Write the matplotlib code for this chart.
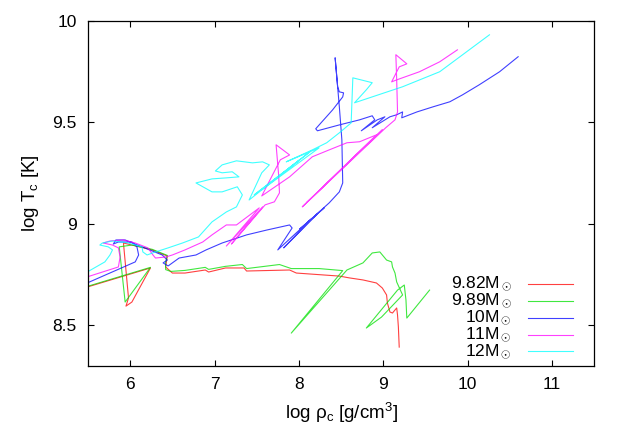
import numpy as np
import matplotlib
matplotlib.use("Agg")
import matplotlib.pyplot as plt
from matplotlib.ticker import FuncFormatter

plt.rcParams['font.family'] = ['Liberation Sans', 'DejaVu Sans']
plt.rcParams['mathtext.fontset'] = 'custom'
plt.rcParams['mathtext.rm'] = 'Liberation Sans'
plt.rcParams['mathtext.it'] = 'Liberation Sans:italic'

# tracks: log rho_c, log T_c
rho_982 = [5.49, 6.24, 6.02, 5.95, 5.98, 5.92, 6.02, 6.26, 6.44, 6.42, 6.50, 6.65, 6.89, 6.93,
           7.13, 7.35, 7.38, 7.89, 7.97, 8.48, 8.60, 8.76, 8.92, 8.99, 9.04, 9.05, 9.08, 9.11,
           9.16, 9.17, 9.18, 9.19]
tc_982 = [8.689, 8.783, 8.615, 8.595, 8.635, 8.906, 8.896, 8.872, 8.842, 8.788, 8.758, 8.758,
          8.773, 8.763, 8.783, 8.783, 8.768, 8.773, 8.758, 8.743, 8.734, 8.724, 8.709, 8.684,
          8.650, 8.610, 8.566, 8.561, 8.586, 8.551, 8.492, 8.393]

rho_989 = [5.49, 6.24, 5.94, 5.87, 6.02, 6.26, 6.44, 6.42, 6.42, 6.48, 6.65, 6.89, 6.93, 7.13,
           7.33, 7.38, 7.77, 7.91, 8.24, 8.52, 7.91, 8.57, 8.76, 8.87, 8.96, 8.99, 9.04, 9.10,
           9.11, 9.14, 9.16, 9.23, 8.98, 8.80, 9.17, 9.25, 9.27, 9.28, 9.55]
tc_989 = [8.692, 8.786, 8.615, 8.887, 8.896, 8.875, 8.845, 8.813, 8.775, 8.766, 8.771, 8.786,
          8.776, 8.791, 8.800, 8.780, 8.800, 8.780, 8.780, 8.770, 8.462, 8.773, 8.808, 8.857,
          8.862, 8.847, 8.822, 8.813, 8.788, 8.758, 8.714, 8.650, 8.541, 8.487, 8.674, 8.699,
          8.625, 8.536, 8.674]

rho_10 = [5.49, 6.06, 6.10, 6.08, 6.02, 5.86, 5.80, 5.83, 5.94, 6.14, 6.38, 6.44, 6.39, 6.45,
          6.58, 6.78, 6.90, 7.09, 7.38, 7.62, 7.89, 7.92, 7.75, 8.15, 7.82, 8.22, 8.01, 8.30,
          8.07, 8.36, 8.48, 8.52, 8.51, 8.48, 8.43, 8.46, 8.48, 8.53, 8.52, 8.40, 8.20, 8.22,
          8.48, 8.72, 8.87, 8.90, 8.74, 8.93, 9.02, 8.87, 9.08, 9.16, 9.23, 9.22, 9.40, 9.59,
          9.79, 9.94, 10.14, 10.38, 10.60]
tc_10 = [8.709, 8.813, 8.847, 8.887, 8.911, 8.911, 8.901, 8.921, 8.921, 8.887, 8.847, 8.822,
         8.808, 8.793, 8.832, 8.847, 8.872, 8.906, 8.946, 8.970, 8.995, 8.980, 8.872, 9.025,
         8.882, 9.049, 8.975, 9.079, 8.995, 9.104, 9.158, 9.202, 9.414, 9.577, 9.819, 9.676,
         9.651, 9.646, 9.626, 9.562, 9.469, 9.459, 9.488, 9.513, 9.533, 9.513, 9.459, 9.513,
         9.528, 9.474, 9.528, 9.538, 9.552, 9.523, 9.552, 9.577, 9.602, 9.636, 9.686, 9.750,
         9.824]

rho_11 = [5.49, 5.86, 5.88, 5.86, 5.79, 5.68, 5.76, 5.92, 6.06, 6.21, 6.27, 6.30, 6.42, 6.50,
          6.65, 6.86, 6.97, 7.14, 7.26, 7.53, 7.14, 7.57, 7.20, 7.60, 7.71, 7.77, 7.76, 7.73,
          7.89, 7.78, 7.56, 7.89, 8.16, 8.36, 8.57, 8.72, 8.92, 8.04, 8.99, 8.09, 9.03, 9.14,
          9.17, 9.16, 9.15, 9.28, 9.19, 9.10, 9.16, 9.43, 9.67, 9.88]
tc_11 = [8.739, 8.788, 8.837, 8.882, 8.896, 8.906, 8.916, 8.921, 8.906, 8.882, 8.847, 8.832,
         8.837, 8.847, 8.872, 8.911, 8.946, 8.995, 8.995, 9.079, 8.891, 9.084, 8.901, 9.094,
         9.109, 9.153, 9.242, 9.390, 9.340, 9.316, 9.138, 9.232, 9.331, 9.365, 9.400, 9.405,
         9.439, 9.084, 9.464, 9.104, 9.474, 9.513, 9.552, 9.710, 9.834, 9.789, 9.774, 9.700,
         9.710, 9.750, 9.799, 9.858]

rho_12 = [5.49, 5.70, 5.76, 5.79, 5.74, 5.64, 5.67, 5.79, 5.90, 5.98, 6.14, 6.15, 6.20, 6.30,
          6.45, 6.62, 6.81, 6.97, 7.14, 7.26, 7.33, 7.27, 7.09, 6.97, 6.78, 6.97, 7.14, 7.29,
          7.21, 7.09, 7.01, 7.09, 7.26, 7.45, 7.57, 7.65, 7.56, 7.41, 8.01, 7.47, 8.13, 7.56,
          8.24, 7.85, 8.16, 8.33, 8.48, 8.62, 8.64, 8.87, 8.80, 8.66, 8.84, 9.23, 9.67, 9.91,
          10.26]
tc_12 = [8.763, 8.813, 8.847, 8.872, 8.887, 8.896, 8.906, 8.916, 8.911, 8.906, 8.887, 8.862,
         8.847, 8.862, 8.882, 8.906, 8.936, 9.010, 9.059, 9.084, 9.143, 9.183, 9.158, 9.158,
         9.202, 9.222, 9.227, 9.232, 9.257, 9.252, 9.261, 9.291, 9.311, 9.301, 9.306, 9.291,
         9.252, 9.118, 9.316, 9.143, 9.355, 9.168, 9.375, 9.306, 9.365, 9.400, 9.449, 9.498,
         9.720, 9.696, 9.661, 9.597, 9.622, 9.676, 9.750, 9.824, 9.932]

labels = ['9.82M$_\\odot$', '9.89M$_\\odot$', '10M$_\\odot$', '11M$_\\odot$', '12M$_\\odot$']
colors = ['#ff0000', '#00e000', '#0000ff', '#ff00ff', '#00ffff']
tracks = [(rho_982, tc_982), (rho_989, tc_989), (rho_10, tc_10), (rho_11, tc_11), (rho_12, tc_12)]

fig = plt.figure(figsize=(6.23, 4.36), dpi=100)
ax = fig.add_axes([0.1413, 0.1606, 0.8122, 0.7912])

for (x, y), c in zip(tracks, colors):
  ax.plot(x, y, color=c, lw=0.8, alpha=0.75)

# gnuplot style key: right aligned text, sample line to the right
for i, (lab, c) in enumerate(zip(labels, colors)):
  yk = 0.238 - 0.049 * i
  ax.text(0.838, yk, lab, transform=ax.transAxes, ha='right', va='center', fontsize=12.5)
  ax.plot([0.870, 0.958], [yk, yk], transform=ax.transAxes, color=c, lw=0.8, alpha=0.75)

ax.set_xlim(5.5, 11.5)
ax.set_ylim(8.3, 10)
ax.set_xticks([6, 7, 8, 9, 10, 11])
ax.set_yticks([8.5, 9, 9.5, 10])
fmt = FuncFormatter(lambda v, p: '%g' % v)
ax.xaxis.set_major_formatter(fmt)
ax.yaxis.set_major_formatter(fmt)
ax.tick_params(direction='in', top=True, right=True, length=4.5, width=0.8, labelsize=12.5, pad=8)
for s in ax.spines.values():
  s.set_linewidth(0.9)

ax.set_xlabel('log ρ$_{\\rm c}$ [g/cm$^3$]', fontsize=13.5, labelpad=6)
ax.set_ylabel('log T$_{\\rm c}$ [K]', fontsize=13.5, labelpad=8)

fig.savefig('out.png', dpi=100)
